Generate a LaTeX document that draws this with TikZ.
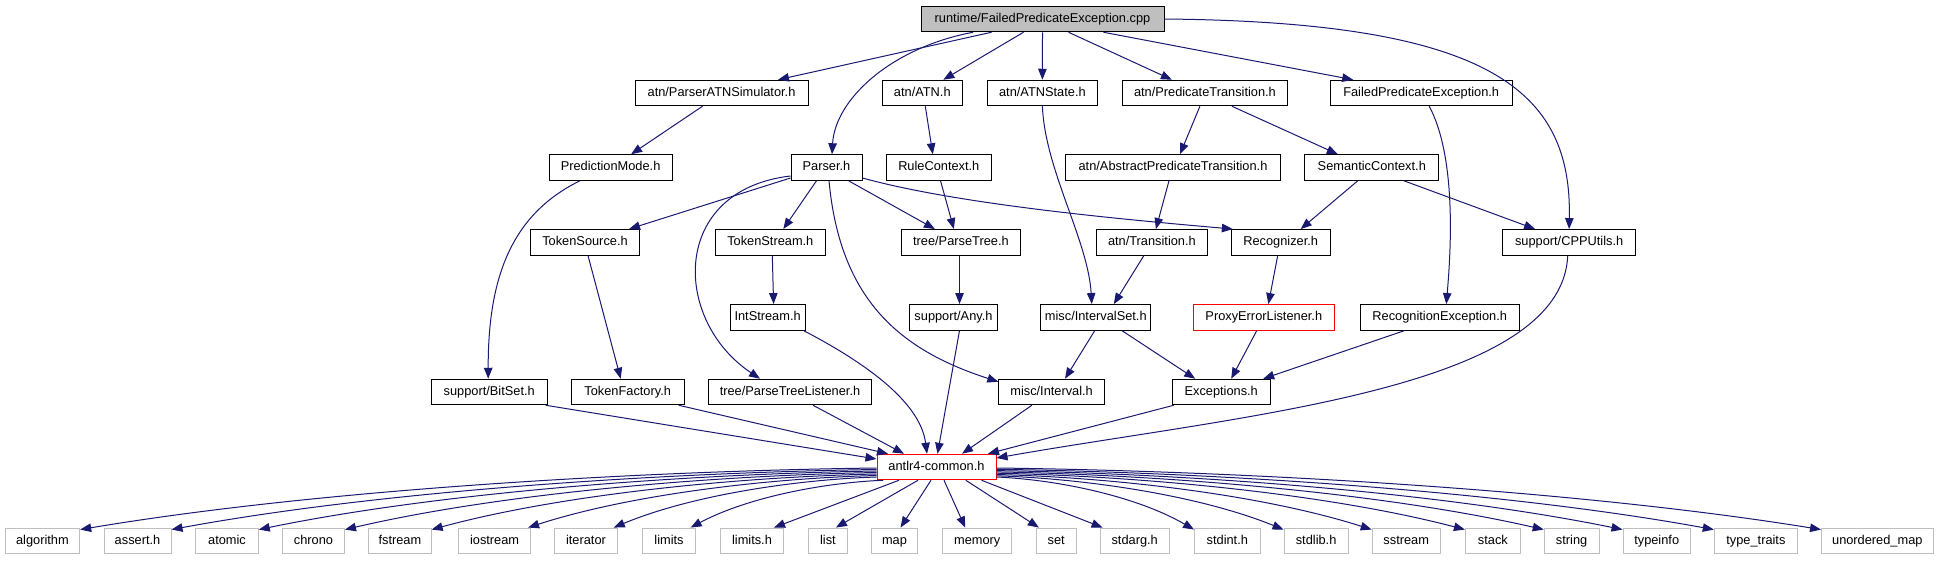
\documentclass[tikz,border=0pt]{standalone}
\usepackage{fontspec}
\setmainfont{Liberation Sans}
\usetikzlibrary{arrows.meta,calc}
\definecolor{edgeblue}{RGB}{25,25,112}
\definecolor{boxgray}{RGB}{191,191,191}
\definecolor{truncred}{RGB}{255,0,0}
\begin{document}
\begin{tikzpicture}[x=1pt,y=-1pt,
  box/.style={draw=black, line width=1pt, fill=white, inner sep=0pt,
    minimum height=25.5pt, font=\fontsize{12.8}{14}\selectfont,
    text height=9.3pt, text depth=2.7pt},
  sysbox/.style={box, draw=boxgray},
  truncbox/.style={box, draw=truncred},
  dep/.style={draw=edgeblue, line width=1pt, -{Triangle[length=11pt,width=8.5pt]}},
  fan/.style={to path={let \p1=(\tikztostart), \p2=(\tikztotarget) in
    .. controls ({\x1+0.3*(\x2-\x1)},{\y1+0.05*(\y2-\y1)})
    and ({\x2+0.3*(\x1-\x2)},{\y2+0.65*(\y1-\y2)}) .. (\tikztotarget)}}]
\useasboundingbox (0,0) rectangle (1938,560);

% row 0
\node[box, fill=boxgray, minimum width=243pt] (main) at (1042.5,19) {runtime/FailedPredicateException.cpp};
% row 1
\node[box, minimum width=173pt] (patns) at (721.5,93) {atn/ParserATNSimulator.h};
\node[box, minimum width=79.4pt] (atn) at (922.3,93) {atn/ATN.h};
\node[box, minimum width=110pt] (atnstate) at (1042.4,93) {atn/ATNState.h};
\node[box, minimum width=165pt] (predtrans) at (1204.9,93) {atn/PredicateTransition.h};
\node[box, minimum width=182pt] (fpeh) at (1421.2,93) {FailedPredicateException.h};
% row 2
\node[box, minimum width=123pt] (predmode) at (610.6,167.5) {PredictionMode.h};
\node[box, minimum width=71pt] (parser) at (826.5,167.5) {Parser.h};
\node[box, minimum width=104.5pt] (rulectx) at (938.8,167.5) {RuleContext.h};
\node[box, minimum width=215pt] (abspred) at (1173,167.5) {atn/AbstractPredicateTransition.h};
\node[box, minimum width=134pt] (semctx) at (1371.8,167.5) {SemanticContext.h};
% row 3
\node[box, minimum width=109.5pt] (tokensource) at (585,242.3) {TokenSource.h};
\node[box, minimum width=110.6pt] (tokenstream) at (770.3,242.3) {TokenStream.h};
\node[box, minimum width=118.7pt] (parsetree) at (960.9,242.3) {tree/ParseTree.h};
\node[box, minimum width=110.5pt] (transition) at (1151.9,242.3) {atn/Transition.h};
\node[box, minimum width=98.7pt] (recognizer) at (1280.7,242.3) {Recognizer.h};
\node[box, minimum width=133pt] (cpputils) at (1569.1,242.3) {support/CPPUtils.h};
% row 4
\node[box, minimum width=74.8pt] (intstream) at (767.6,317.3) {IntStream.h};
\node[box, minimum width=87.8pt] (any) at (953.5,317.3) {support/Any.h};
\node[box, minimum width=110pt] (intervalset) at (1095.8,317.3) {misc/IntervalSet.h};
\node[truncbox, minimum width=141.6pt] (proxy) at (1263.8,317.3) {ProxyErrorListener.h};
\node[box, minimum width=158.7pt] (recogexc) at (1439.7,317.3) {RecognitionException.h};
% row 5
\node[box, minimum width=116pt] (bitset) at (489.2,392) {support/BitSet.h};
\node[box, minimum width=112.6pt] (tokenfactory) at (627.7,392) {TokenFactory.h};
\node[box, minimum width=163.6pt] (ptl) at (790,392) {tree/ParseTreeListener.h};
\node[box, minimum width=105.5pt] (interval) at (1051.6,392) {misc/Interval.h};
\node[box, minimum width=98.3pt] (exceptions) at (1221.2,392) {Exceptions.h};
% row 6
\node[truncbox, minimum width=119pt] (common) at (936.5,467) {antlr4-common.h};
% row 7
\node[sysbox, minimum width=74.6pt] (algorithm) at (42.4,540.8) {algorithm};
\node[sysbox, minimum width=67pt] (assert) at (137.5,540.8) {assert.h};
\node[sysbox, minimum width=62.5pt] (atomic) at (227,540.8) {atomic};
\node[sysbox, minimum width=62pt] (chrono) at (313.5,540.8) {chrono};
\node[sysbox, minimum width=62.5pt] (fstream) at (399.9,540.8) {fstream};
\node[sysbox, minimum width=72pt] (iostream) at (494.6,540.8) {iostream};
\node[sysbox, minimum width=62.5pt] (iterator) at (586,540.8) {iterator};
\node[sysbox, minimum width=52.3pt] (limits) at (669,540.8) {limits};
\node[sysbox, minimum width=62.5pt] (limitsh) at (752,540.8) {limits.h};
\node[sysbox, minimum width=38.3pt] (list) at (827.9,540.8) {list};
\node[sysbox, minimum width=45.3pt] (map) at (894.5,540.8) {map};
\node[sysbox, minimum width=69.2pt] (memory) at (977.2,540.8) {memory};
\node[sysbox, minimum width=39.7pt] (set) at (1056.2,540.8) {set};
\node[sysbox, minimum width=69.3pt] (stdarg) at (1134.7,540.8) {stdarg.h};
\node[sysbox, minimum width=65.5pt] (stdint) at (1227.3,540.8) {stdint.h};
\node[sysbox, minimum width=64.2pt] (stdlib) at (1316.1,540.8) {stdlib.h};
\node[sysbox, minimum width=68pt] (sstream) at (1406.2,540.8) {sstream};
\node[sysbox, minimum width=55pt] (stack) at (1492.9,540.8) {stack};
\node[sysbox, minimum width=54.8pt] (string) at (1571.6,540.8) {string};
\node[sysbox, minimum width=67.4pt] (typeinfo) at (1656.7,540.8) {typeinfo};
\node[sysbox, minimum width=83.2pt] (typetraits) at (1755.9,540.8) {type\_traits};
\node[sysbox, minimum width=111.5pt] (unorderedmap) at (1877.3,540.8) {unordered\_map};

% edges from main
\draw[dep] ([xshift=-51pt]main.south) -- ([xshift=56.5pt]patns.north);
\draw[dep] ([xshift=-69.5pt]main.south) .. controls (890,48) and (835,100) .. ([xshift=5.5pt]parser.north);
\draw[dep] ([xshift=-19pt]main.south) -- ([xshift=21pt]atn.north);
\draw[dep] (main.south) -- (atnstate.north);
\draw[dep] ([xshift=26pt]main.south) -- ([xshift=-33pt]predtrans.north);
\draw[dep] ([xshift=61pt]main.south) -- ([xshift=-68pt]fpeh.north);
\draw[dep] (main.east) .. controls (1490,22) and (1572,90) .. (cpputils.north);
% row 1 edges
\draw[dep] ([xshift=-19pt]patns.south) -- ([xshift=20.5pt]predmode.north);
\draw[dep] ([xshift=3pt]atn.south) -- ([xshift=-6pt]rulectx.north);
\draw[dep] (atnstate.south) .. controls (1045,170) and (1088,240) .. ([xshift=-4pt]intervalset.north);
\draw[dep] ([xshift=-5pt]predtrans.south) -- ([xshift=7pt]abspred.north);
\draw[dep] ([xshift=27pt]predtrans.south) -- ([xshift=-34pt]semctx.north);
\draw[dep] ([xshift=8pt]fpeh.south) .. controls (1458,160) and (1450,260) .. ([xshift=6.6pt]recogexc.north);
% row 2 edges
\draw[dep] ([xshift=-30.6pt]predmode.south) .. controls (510,215) and (488,280) .. ([xshift=-1pt]bitset.north);
\draw[dep] ([yshift=-10.5pt]parser.west) -- ([xshift=44pt]tokensource.north);
\draw[dep] ([yshift=-8.5pt]parser.west) .. controls (670,190) and (672,320) .. ([xshift=-30pt]ptl.north);
\draw[dep] ([xshift=-10pt]parser.south) -- ([xshift=13pt]tokenstream.north);
\draw[dep] ([xshift=22pt]parser.south) -- ([xshift=-26pt]parsetree.north);
\draw[dep] ([yshift=-10.5pt]parser.east) .. controls (960,205) and (1130,220) .. ([xshift=2pt]recognizer.north west);
\draw[dep] ([xshift=2.5pt]parser.south) .. controls (840,300) and (900,350) .. ([yshift=-3pt]interval.north west);
\draw[dep] ([xshift=1.7pt]rulectx.south) -- ([xshift=-7pt]parsetree.north);
\draw[dep] ([xshift=-4pt]abspred.south) -- ([xshift=4pt]transition.north);
\draw[dep] ([xshift=-14pt]semctx.south) -- ([xshift=20pt]recognizer.north);
\draw[dep] ([xshift=32pt]semctx.south) -- ([xshift=-34pt]cpputils.north);
% row 3 edges
\draw[dep] ([xshift=3pt]tokensource.south) -- ([xshift=-7pt]tokenfactory.north);
\draw[dep] ([xshift=2pt]tokenstream.south) -- ([xshift=6pt]intstream.north);
\draw[dep] ([xshift=-1.4pt]parsetree.south) -- ([xshift=6pt]any.north);
\draw[dep] ([xshift=-8pt]transition.south) -- ([xshift=18pt]intervalset.north);
\draw[dep] ([xshift=-3pt]recognizer.south) -- ([xshift=4.6pt]proxy.north);
\draw[dep] ([xshift=-1.4pt]cpputils.south) .. controls (1562,390) and (1240,415) .. ([yshift=9pt]common.east);
% row 4 edges
\draw[dep] ([xshift=-2pt]intstream.south east) .. controls (860,360) and (920,400) .. ([xshift=-9.5pt]common.north);
\draw[dep] ([xshift=6pt]any.south) -- ([xshift=1pt]common.north);
\draw[dep] ([xshift=-1pt]intervalset.south) -- ([xshift=13.4pt]interval.north);
\draw[dep] ([xshift=26pt]intervalset.south) -- ([xshift=-26pt]exceptions.north);
\draw[dep] ([xshift=-7pt]proxy.south) -- ([xshift=10pt]exceptions.north);
\draw[dep] ([xshift=-35pt]recogexc.south) -- ([xshift=42pt]exceptions.north);
% row 5 edges
\draw[dep] ([xshift=-2pt]bitset.south east) -- ([yshift=8pt]common.west);
\draw[dep] ([xshift=51pt]tokenfactory.south) -- ([xshift=-48.5pt]common.north);
\draw[dep] ([xshift=23pt]ptl.south) -- ([xshift=-32.5pt]common.north);
\draw[dep] ([xshift=-19.7pt]interval.south) -- ([xshift=25.5pt]common.north);
\draw[dep] ([xshift=-47.5pt]exceptions.south) -- ([xshift=51.5pt]common.north);
% antlr4-common to system headers
\draw[dep] ([yshift=-1pt]common.west) to[fan] ([yshift=-2pt]algorithm.north east);
\draw[dep] ([yshift=-2.5pt]common.west) to[fan] ([yshift=-2pt]assert.north east);
\draw[dep] ([yshift=-4pt]common.west) to[fan] ([yshift=-2pt]atomic.north east);
\draw[dep] ([yshift=-5.5pt]common.west) to[fan] ([yshift=-2pt]chrono.north east);
\draw[dep] ([yshift=-7pt]common.west) to[fan] ([yshift=-2pt]fstream.north east);
\draw[dep] ([yshift=-8.5pt]common.west) to[fan] ([xshift=-3pt]iostream.north east);
\draw[dep] ([yshift=-10pt]common.west) to[fan] ([xshift=-4pt]iterator.north east);
\draw[dep] ([xshift=-53.5pt]common.south) to[fan] ([xshift=-5pt]limits.north east);
\draw[dep] ([xshift=-37.5pt]common.south) -- ([xshift=22pt]limitsh.north);
\draw[dep] ([xshift=-18.5pt]common.south) -- ([xshift=8pt]list.north);
\draw[dep] ([xshift=-5.5pt]common.south) -- ([xshift=6pt]map.north);
\draw[dep] ([xshift=7.5pt]common.south) -- ([xshift=-12pt]memory.north);
\draw[dep] ([xshift=29.3pt]common.south) -- ([xshift=3pt]set.north west);
\draw[dep] ([xshift=45pt]common.south) -- ([xshift=3pt]stdarg.north west);
\draw[dep] ([yshift=-10pt]common.east) to[fan] ([yshift=-2pt]stdint.north west);
\draw[dep] ([yshift=-8.8pt]common.east) to[fan] ([yshift=-2pt]stdlib.north west);
\draw[dep] ([yshift=-7.5pt]common.east) to[fan] ([yshift=-2pt]sstream.north west);
\draw[dep] ([yshift=-6.2pt]common.east) to[fan] ([yshift=-2pt]stack.north west);
\draw[dep] ([yshift=-4.9pt]common.east) to[fan] ([yshift=-2pt]string.north west);
\draw[dep] ([yshift=-3.6pt]common.east) to[fan] ([yshift=-2pt]typeinfo.north west);
\draw[dep] ([yshift=-2.3pt]common.east) to[fan] ([yshift=-2pt]typetraits.north west);
\draw[dep] ([yshift=-1pt]common.east) to[fan] ([yshift=-2pt]unorderedmap.north west);
\end{tikzpicture}
\end{document}
